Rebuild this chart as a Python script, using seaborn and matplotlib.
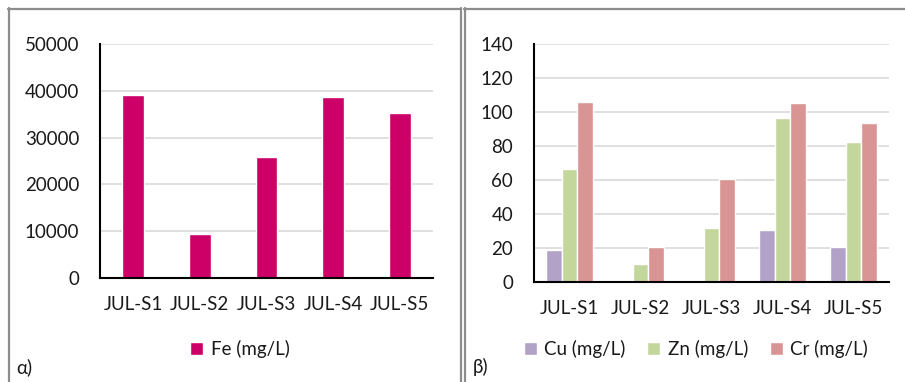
import matplotlib
matplotlib.use("Agg")
import matplotlib.pyplot as plt
from matplotlib.lines import Line2D
import seaborn as sns
import pandas as pd

# Sampling stations
stations = ["JUL-S1", "JUL-S2", "JUL-S3", "JUL-S4", "JUL-S5"]

# Iron concentration (mg/L)
fe = [39200, 9500, 25800, 38700, 35300]

# Trace metals (mg/L)
cu = [19.1, 0, 0, 30.5, 20.6]
zn = [66.3, 10.4, 31.9, 96.2, 82.4]
cr = [105.8, 20.6, 60.4, 105.2, 93.8]

metal_labels = ["Cu (mg/L)", "Zn (mg/L)", "Cr (mg/L)"]
metal_colors = ["#B3A2C7", "#C3D69B", "#D99594"]
fe_color = "#CC0066"

sns.set_theme(style="white")
plt.rcParams["font.family"] = ["Lato", "DejaVu Sans"]
plt.rcParams["font.size"] = 13.5
plt.rcParams["text.color"] = "#1a1a1a"

FS = 13.5
W, H = 905, 382
fig = plt.figure(figsize=(W / 100, H / 100), dpi=100)
fig.patch.set_facecolor("white")


def px_axes(x0, y0, x1, y1):
    return fig.add_axes([x0 / W, 1 - y1 / H, (x1 - x0) / W, (y1 - y0) / H])


def style_axes(ax, ymax, ystep):
    ax.set_ylim(0, ymax)
    ax.set_xlim(-0.5, len(stations) - 0.5)
    ax.set_yticks(range(0, ymax + 1, ystep))
    ax.yaxis.grid(True, color="#D9D9D9", linewidth=1.2)
    ax.set_axisbelow(True)
    for s in ["top", "right"]:
        ax.spines[s].set_visible(False)
    for s in ["left", "bottom"]:
        ax.spines[s].set_color("black")
        ax.spines[s].set_linewidth(1.5)
    ax.set_xticks([i - 0.5 for i in range(len(stations) + 1)], minor=True)
    ax.tick_params(axis="x", which="major", length=0, pad=13, labelsize=FS, colors="#1a1a1a")
    ax.tick_params(axis="x", which="minor", length=5, width=1.5, direction="out", color="black")
    ax.tick_params(axis="y", which="major", length=5, width=1.5, direction="out", color="black",
                   labelsize=FS, labelcolor="#1a1a1a", pad=10)
    ax.set_xlabel("")
    ax.set_ylabel("")


# Panel (a): iron
ax1 = px_axes(100, 44, 433, 278)
df_fe = pd.DataFrame({"station": stations, "value": fe})
sns.barplot(data=df_fe, x="station", y="value", color=fe_color, saturation=1,
            width=0.33, ax=ax1, label="Fe (mg/L)")
style_axes(ax1, 50000, 10000)
ax1.legend(loc="center", bbox_to_anchor=(240 / W, 1 - 349 / H), bbox_transform=fig.transFigure,
           frameon=False, handlelength=0.7, handleheight=0.7, handletextpad=0.4,
           fontsize=FS)

# Panel (b): Cu, Zn, Cr
ax2 = px_axes(534, 44, 889, 282)
df_m = pd.DataFrame({
    "station": stations * 3,
    "metal": [metal_labels[0]] * 5 + [metal_labels[1]] * 5 + [metal_labels[2]] * 5,
    "value": cu + zn + cr,
})
sns.barplot(data=df_m, x="station", y="value", hue="metal", hue_order=metal_labels,
            palette=metal_colors, saturation=1, width=0.66, ax=ax2)
style_axes(ax2, 140, 20)
ax2.legend(loc="center", bbox_to_anchor=(696 / W, 1 - 349 / H), bbox_transform=fig.transFigure,
           ncol=3, frameon=False, handlelength=0.7, handleheight=0.7, handletextpad=0.4,
           columnspacing=1.15, fontsize=FS)

# Panel letters
fig.text(16 / W, 1 - 367 / H, "α)", fontsize=FS, va="center", ha="left")
fig.text(473 / W, 1 - 367 / H, "β)", fontsize=FS, va="center", ha="left")


# Panel frames
def px_line(xs, ys):
    fig.add_artist(Line2D([x / W for x in xs], [1 - y / H for y in ys],
                          color="#8C8C8C", linewidth=1.6, transform=fig.transFigure))


px_line([8, 461], [8.5, 8.5])
px_line([464, W], [8.5, 8.5])
px_line([8.5, 8.5], [8, H])
px_line([461, 461], [8, H])
px_line([464.5, 464.5], [8, H])

fig.savefig("out.png", dpi=100, facecolor="white")
